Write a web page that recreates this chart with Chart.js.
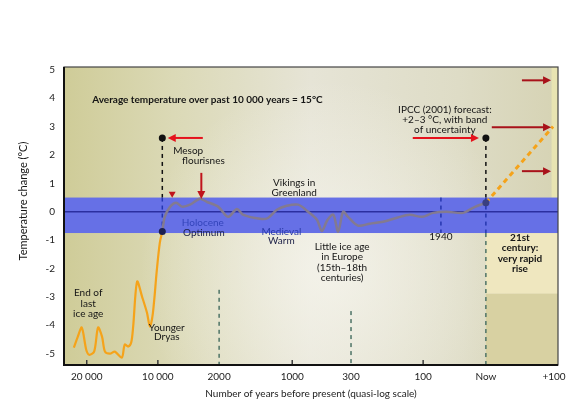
<!DOCTYPE html>
<html>
<head>
<meta charset="utf-8">
<script src="https://cdn.jsdelivr.net/npm/chart.js@4/dist/chart.umd.min.js"></script>
<style>
body{margin:0;background:#fff;}
#wrap{position:relative;width:588px;height:407px;}
</style>
</head>
<body>
<div id="wrap"><canvas id="tempChart"></canvas></div>
<script>

// ---------- DATA ----------

// x positions are on a 0..100 quasi-log axis
const tickPos = [4.6, 19.0, 31.4, 46.2, 58.1, 72.7, 85.4, 99.2];
const tickLabels = ["20 000", "10 000", "2000", "1000", "300", "100", "Now", "+100"];

const iceAgeX = [2.0, 2.8, 3.6, 4.5, 5.1, 6.1, 6.9, 7.7, 8.3, 9.3, 10.3, 11.7, 12.3, 13.0, 13.6, 14.0, 14.8, 15.8, 16.8, 17.4, 18.0, 18.8, 19.4, 19.9];
const iceAgeTemp = [-4.79, -4.40, -4.08, -4.86, -5.04, -4.93, -4.08, -4.40, -4.93, -5.00, -4.93, -5.14, -4.68, -4.75, -4.61, -4.05, -2.46, -2.99, -3.56, -4.05, -3.56, -2.04, -1.09, -0.70];

const holoceneX = [19.9, 20.4, 21.5, 22.7, 23.9, 25.5, 27.5, 28.9, 31.2, 33.2, 35.0, 36.2, 39.7, 41.3, 43.1, 45.1, 47.4, 49.4, 51.2, 52.2, 53.3, 54.5, 55.5, 56.5, 57.5, 59.5, 61.9, 64.6, 67.4, 70.0, 72.5, 74.7, 77.5, 80.8, 82.8, 85.4];
const holoceneTemp = [-0.70, -0.18, 0.18, 0.32, 0.18, 0.25, 0.46, 0.35, 0.18, -0.18, 0.10, -0.10, -0.25, -0.22, 0.07, 0.21, 0.25, 0.00, -0.28, -0.68, -0.30, -0.10, -0.70, 0.00, -0.18, -0.49, -0.42, -0.35, -0.21, -0.11, -0.18, -0.04, 0.00, -0.04, 0.14, 0.32];

const forecastX = [85.4, 99.0];
const forecastTemp = [0.32, 3.0];

const dotX = [19.9, 19.9, 85.4, 85.4];
const dotTemp = [2.6, -0.70, 2.6, 0.32];

const bandHigh = 0.5;
const bandLow = -0.75;


// ---------- ANNOTATIONS ----------

const arrows = [
  {x1: 28.1, y1: 2.6, x2: 21.0, y2: 2.6, c: "#e5121c"},
  {x1: 27.8, y1: 1.37, x2: 27.8, y2: 0.45, c: "#c0141c"},
  {x1: 70.6, y1: 2.6, x2: 84.0, y2: 2.6, c: "#e5121c"},
  {x1: 92.7, y1: 4.63, x2: 98.6, y2: 4.63, c: "#a8121a"},
  {x1: 86.6, y1: 2.98, x2: 98.6, y2: 2.98, c: "#a8121a"},
  {x1: 92.7, y1: 1.43, x2: 98.6, y2: 1.43, c: "#a8121a"}
];

const guides = [
  {x: 19.9, y1: 2.6, y2: 0.5, c: "#111"},
  {x: 19.9, y1: 0.5, y2: -0.7, c: "#2536b0"},
  {x: 85.4, y1: 2.6, y2: 0.5, c: "#111"},
  {x: 85.4, y1: 0.5, y2: -0.75, c: "#2536b0"},
  {x: 85.4, y1: -0.75, y2: -5.4, c: "#4d7366"},
  {x: 76.3, y1: 0.5, y2: -0.75, c: "#2536b0"},
  {x: 31.4, y1: -2.75, y2: -5.4, c: "#4d7366"},
  {x: 58.1, y1: -3.5, y2: -5.4, c: "#4d7366"}
];

const shortTicks = [4.6, 19.0, 46.2, 72.7];

const notes = [
  {t: "Average temperature over past 10 000 years = 15°C", x: 5.7, y: 3.94, a: "left", b: true},
  {t: "Mesop", x: 22.1, y: 2.15, a: "left"},
  {t: "flourisnes", x: 23.9, y: 1.8, a: "left"},
  {t: "Vikings in", x: 46.6, y: 1.02},
  {t: "Greenland", x: 46.6, y: 0.67},
  {t: "Holocene", x: 28.1, y: -0.39, c: "#3344bb"},
  {t: "Optimum", x: 28.3, y: -0.74, c: "#1c2048"},
  {t: "Medieval", x: 44.0, y: -0.70, c: "#2a3aa8"},
  {t: "Warm", x: 44.0, y: -1.02, c: "#1c2048"},
  {t: "Little ice age", x: 56.3, y: -1.23},
  {t: "in Europe", x: 56.3, y: -1.58},
  {t: "(15th–18th", x: 56.3, y: -1.97},
  {t: "centuries)", x: 56.3, y: -2.32},
  {t: "1940", x: 76.3, y: -0.88},
  {t: "21st", x: 92.3, y: -0.92, b: true},
  {t: "century:", x: 92.3, y: -1.27, b: true},
  {t: "very rapid", x: 92.3, y: -1.65, b: true},
  {t: "rise", x: 92.3, y: -2.0, b: true},
  {t: "IPCC (2001) forecast:", x: 77.1, y: 3.59},
  {t: "+2–3 °C, with band", x: 77.1, y: 3.24},
  {t: "of uncertainty", x: 77.1, y: 2.89},
  {t: "End of", x: 4.9, y: -2.85},
  {t: "last", x: 4.9, y: -3.24},
  {t: "ice age", x: 4.9, y: -3.59},
  {t: "Younger", x: 20.8, y: -4.08},
  {t: "Dryas", x: 20.8, y: -4.40}
];

const FONT = "Lato";


// ---------- HELPERS ----------

function toPoints(xs, ys){
return xs.map((x, i) => ({x: x, y: ys[i]}));
}

function drawArrow(ctx, xs, ys, a){
let x1 = xs.getPixelForValue(a.x1), y1 = ys.getPixelForValue(a.y1);
let x2 = xs.getPixelForValue(a.x2), y2 = ys.getPixelForValue(a.y2);
let ang = Math.atan2(y2 - y1, x2 - x1);
ctx.strokeStyle = a.c;
ctx.fillStyle = a.c;
ctx.lineWidth = 2;
ctx.beginPath();
ctx.moveTo(x1, y1);
ctx.lineTo(x2 - 6 * Math.cos(ang), y2 - 6 * Math.sin(ang));
ctx.stroke();
ctx.beginPath();
ctx.moveTo(x2, y2);
ctx.lineTo(x2 - 8 * Math.cos(ang) + 4 * Math.sin(ang), y2 - 8 * Math.sin(ang) - 4 * Math.cos(ang));
ctx.lineTo(x2 - 8 * Math.cos(ang) - 4 * Math.sin(ang), y2 - 8 * Math.sin(ang) + 4 * Math.cos(ang));
ctx.closePath();
ctx.fill();
}


// ---------- BACKGROUND / OVERLAY PLUGIN ----------

const backdrop = {

id: "backdrop",

beforeDraw(chart){
const ctx = chart.ctx;
const area = chart.chartArea;
const xs = chart.scales.x, ys = chart.scales.y;
ctx.save();
ctx.fillStyle = "#fff";
ctx.fillRect(0, 0, chart.width, chart.height);

let g = ctx.createLinearGradient(area.left, 0, area.right, 0);
g.addColorStop(0, "#cfcc98");
g.addColorStop(0.22, "#dbd9b6");
g.addColorStop(0.5, "#e6e4d6");
g.addColorStop(0.8, "#dedcc6");
g.addColorStop(1, "#d6d3b4");
ctx.fillStyle = g;
ctx.fillRect(area.left, area.top, area.right - area.left, area.bottom - area.top);

let r = ctx.createRadialGradient(330, 270, 10, 330, 270, 190);
r.addColorStop(0, "rgba(248,247,240,0.7)");
r.addColorStop(1, "rgba(248,247,240,0)");
ctx.fillStyle = r;
ctx.fillRect(area.left, area.top, area.right - area.left, area.bottom - area.top);

// 21st century panel
let nx = xs.getPixelForValue(85.4);
let yb = ys.getPixelForValue(bandLow);
let ym = ys.getPixelForValue(-2.89);
ctx.fillStyle = "#efe7bf";
ctx.fillRect(nx, yb, area.right - nx, ym - yb);
ctx.fillStyle = "#d8d1a2";
ctx.fillRect(nx, ym, area.right - nx, area.bottom - ym);
ctx.fillStyle = "#e8e4b2";
ctx.fillRect(xs.getPixelForValue(98.7), area.top, area.right - xs.getPixelForValue(98.7), yb - area.top);

// band of natural variation
let yt = ys.getPixelForValue(bandHigh);
ctx.fillStyle = "#6670e6";
ctx.fillRect(area.left, yt, area.right - area.left, yb - yt);
ctx.strokeStyle = "#2b2fa0";
ctx.lineWidth = 1.5;
ctx.beginPath();
ctx.moveTo(area.left, ys.getPixelForValue(0));
ctx.lineTo(area.right, ys.getPixelForValue(0));
ctx.stroke();

// dashed guides
ctx.lineWidth = 1.5;
ctx.setLineDash([4, 4]);
guides.forEach(d => {
ctx.strokeStyle = d.c;
ctx.beginPath();
ctx.moveTo(xs.getPixelForValue(d.x), ys.getPixelForValue(d.y1));
ctx.lineTo(xs.getPixelForValue(d.x), ys.getPixelForValue(d.y2));
ctx.stroke();
});
ctx.setLineDash([]);
ctx.strokeStyle = "#3a3a3a";
shortTicks.forEach(v => {
ctx.beginPath();
ctx.moveTo(xs.getPixelForValue(v), area.bottom);
ctx.lineTo(xs.getPixelForValue(v), area.bottom - 5);
ctx.stroke();
});
ctx.restore();
},

afterDatasetsDraw(chart){
const ctx = chart.ctx;
const area = chart.chartArea;
const xs = chart.scales.x, ys = chart.scales.y;
ctx.save();

arrows.forEach(a => drawArrow(ctx, xs, ys, a));

// frame
ctx.strokeStyle = "#444";
ctx.lineWidth = 1.2;
ctx.strokeRect(area.left, area.top, area.right - area.left, area.bottom - area.top);
ctx.strokeStyle = "#111";
ctx.lineWidth = 2;
ctx.beginPath();
ctx.moveTo(area.left, area.top);
ctx.lineTo(area.left, area.bottom);
ctx.lineTo(area.right, area.bottom);
ctx.stroke();

// labels
ctx.textBaseline = "middle";
notes.forEach(n => {
ctx.font = (n.b ? "bold " : "") + "10px " + FONT;
ctx.fillStyle = n.c || "#151515";
ctx.textAlign = n.a || "center";
ctx.fillText(n.t, xs.getPixelForValue(n.x), ys.getPixelForValue(n.y));
});

// y axis title
ctx.translate(23, 201);
ctx.rotate(-Math.PI / 2);
ctx.textAlign = "center";
ctx.font = "11px " + FONT;
ctx.fillStyle = "#151515";
ctx.fillText("Temperature change (°C)", 0, 0);
ctx.restore();
}

};


// ---------- CHART ----------

document.addEventListener("DOMContentLoaded", function(){

const ctx = document.getElementById("tempChart");

new Chart(ctx, {

type: "line",

data: {
datasets: [
{
label: "markers",
data: toPoints(dotX, dotTemp),
showLine: false,
pointRadius: 3.5,
pointBackgroundColor: ["#111", "#1c2050", "#111", "#3a3f80"],
pointBorderWidth: 0
},
{
label: "mark",
data: [{x: 21.9, y: 0.63}],
showLine: false,
pointStyle: "triangle",
rotation: 180,
pointRadius: 4,
pointBackgroundColor: "#c0141c",
pointBorderWidth: 0
},
{
label: "Holocene",
data: toPoints(holoceneX, holoceneTemp),
borderColor: "#837a90",
borderWidth: 2.5,
pointRadius: 0,
tension: 0.3
},
{
label: "Ice age",
data: toPoints(iceAgeX, iceAgeTemp),
borderColor: "#f5a31a",
borderWidth: 2.2,
pointRadius: 0,
tension: 0.3
},
{
label: "Forecast",
data: toPoints(forecastX, forecastTemp),
borderColor: "#f5a31a",
borderWidth: 3,
borderDash: [5, 4],
pointRadius: 0
}
]
},

options: {
responsive: true,
maintainAspectRatio: false,
animation: false,
layout: {padding: {top: 67, right: 30, left: 0, bottom: 0}},
plugins: {
legend: {display: false},
tooltip: {enabled: false}
},
scales: {
x: {
type: "linear",
min: 0,
max: 100,
grid: {display: false, drawTicks: false},
border: {display: false},
afterBuildTicks: s => { s.ticks = tickPos.map(v => ({value: v})); },
afterFit: s => { s.height = 42; },
ticks: {
autoSkip: false,
maxRotation: 0,
padding: 6,
color: "#222",
font: {family: FONT, size: 10},
callback: (v, i) => tickLabels[i]
},
title: {
display: true,
text: "Number of years before present (quasi-log scale)",
color: "#222",
font: {family: FONT, size: 10},
padding: {top: 7, bottom: 7}
}
},
y: {
min: -5.4,
max: 5.1,
grid: {display: false, drawTicks: false},
border: {display: false},
afterFit: s => { s.width = 64; },
ticks: {
stepSize: 1,
includeBounds: false,
padding: 9,
color: "#222",
font: {family: FONT, size: 10}
}
}
}
},

plugins: [backdrop]

});

});
</script>
</body>
</html>
